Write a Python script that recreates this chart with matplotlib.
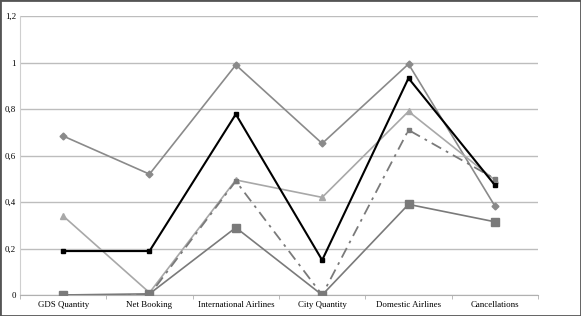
import matplotlib
matplotlib.use("Agg")
import matplotlib.pyplot as plt
import numpy as np
from matplotlib.ticker import FixedLocator

categories = ["GDS Quantity", "Net Booking", "International Airlines",
              "City Quantity", "Domestic Airlines", "Cancellations"]
s_diamond = [0.684, 0.52, 0.99, 0.652, 0.994, 0.383]
s_black = [0.189, 0.189, 0.778, 0.15, 0.933, 0.473]
s_triangle = [0.34, 0.01, 0.495, 0.42, 0.79, 0.495]
s_dashdot = [0.0, 0.0, 0.49, 0.0, 0.71, 0.50]
s_bigsq = [0.0, 0.005, 0.29, 0.0, 0.39, 0.315]
yticks = [0, 0.2, 0.4, 0.6, 0.8, 1.0, 1.2]
ylabels = ["0", "0,2", "0,4", "0,6", "0,8", "1", "1,2"]

plt.rcParams['font.family'] = ['Liberation Serif', 'DejaVu Serif']

fig = plt.figure(figsize=(5.81, 3.16), dpi=100)
ax = fig.add_axes([0.0344, 0.0665, 0.8916, 0.8825])
x = np.arange(len(categories))

ax.plot(x, s_diamond, color="#8a8a8a", lw=1.2, marker="D", ms=3.5, zorder=3)
ax.plot(x, s_triangle, color="#a8a8a8", lw=1.2, marker="^", ms=5, zorder=3)
ax.plot(x, s_bigsq, color="#7a7a7a", lw=1.2, marker="s", ms=6, zorder=3)
ax.plot(x, s_dashdot, color="#7a7a7a", lw=1.3, ls=(0, (6, 3, 1.5, 3)), marker="s", ms=3.5, zorder=4)
ax.plot(x, s_black, color="#000000", lw=1.5, marker="s", ms=3.5, zorder=5)

ax.set_xlim(-0.5, len(categories) - 0.5)
ax.set_ylim(0, 1.2)
ax.set_yticks(yticks)
ax.set_yticklabels(ylabels)
ax.set_xticks(x)
ax.set_xticklabels(categories)
ax.xaxis.set_minor_locator(FixedLocator(np.arange(-0.5, len(categories), 1.0)))
ax.tick_params(axis='x', which='major', length=0, pad=4, labelsize=6.4)
ax.tick_params(axis='x', which='minor', length=3, color="#b0b0b0", direction='out')
ax.tick_params(axis='y', length=0, pad=3, labelsize=6.4)
ax.grid(axis='y', color="#bdbdbd", lw=1.0)
ax.set_axisbelow(True)
for s in ['top', 'right']:
    ax.spines[s].set_visible(False)
ax.spines['left'].set_color("#cfcfcf")
ax.spines['bottom'].set_color("#b0b0b0")

fig.patches.append(plt.Rectangle((0, 0), 1, 1, transform=fig.transFigure,
                                 fill=False, edgecolor="#555555", lw=2.0))
fig.savefig("out.png", dpi=100)
